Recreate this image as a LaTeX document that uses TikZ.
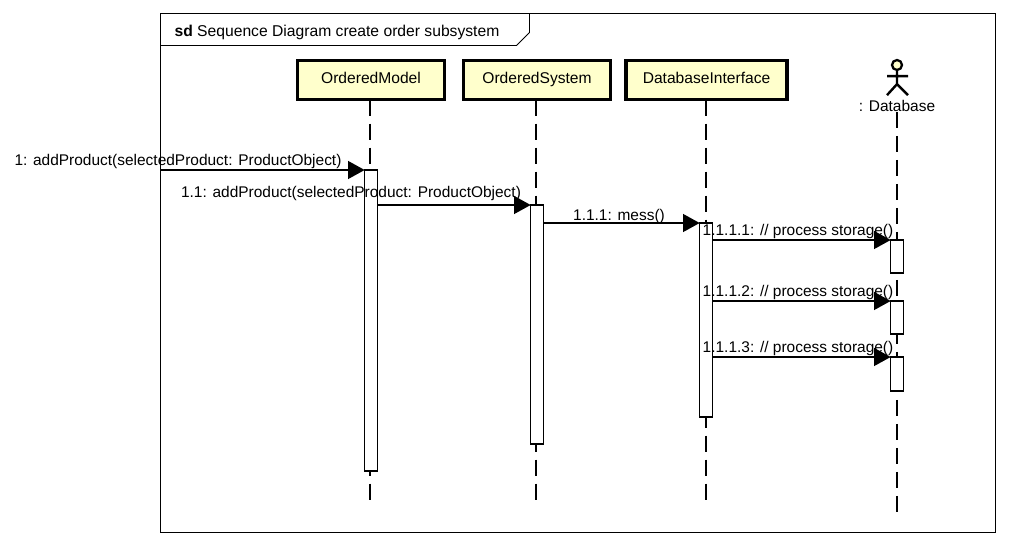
\documentclass[tikz,border=0pt]{standalone}
\usepackage{fontspec}
\setmainfont{Liberation Sans}
\usetikzlibrary{positioning,calc}
\usetikzlibrary{arrows.meta}
\definecolor{headfill}{HTML}{FFFFCC}
\tikzstyle{frame} = [rectangle,draw=black,line width=0.7pt,minimum width=626.25pt,minimum height=389.25pt,outer sep=0pt]
\tikzstyle{head} = [rectangle,draw=black,fill=headfill,line width=2.6pt,minimum height=29.5pt,outer sep=0pt,inner sep=0pt,font=\fontsize{11.7}{14}\selectfont,text height=8pt,text depth=3.5pt]
\tikzstyle{bar} = [rectangle,draw=black,fill=white,line width=0.9pt,minimum width=9.5pt,outer sep=0pt,inner sep=0pt,anchor=north]
\tikzstyle{lifeline} = [line width=1.1pt,dash pattern=on 12pt off 6pt]
\tikzstyle{line} = [line width=1pt,-{Triangle[length=12.5pt,width=13.5pt]}]
\tikzstyle{label} = [inner sep=0pt,font=\fontsize{11.6}{14}\selectfont]

\begin{document}
\begin{tikzpicture}[x=0.75pt,y=-0.75pt]
        \useasboundingbox (0,0) rectangle (1009,546);
        \node[frame] (sd) at (578,273) {};
        \draw[line width=0.7pt] (sd.north west) ++(369,0) -- ++(0,19) -- ++(-13,13) -- ++(-356,0);
        \node[label,font=\fontsize{11.75}{14}\selectfont] (title) at (337,32) {\textbf{sd} Sequence Diagram create order subsystem};

        \node[head,minimum width=110pt] (model) at (371,80) {OrderedModel};
        \node[head,minimum width=110pt] (system) at (537,80) {OrderedSystem};
        \node[head,minimum width=121pt] (iface) at (706.5,80) {DatabaseInterface};

        \node[draw=black,fill=headfill,circle,line width=1.7pt,minimum size=7.5pt,inner sep=0pt] (actor) at (897,65) {};
        \draw[line width=1.8pt] (actor.south) -- ++(0,13) -- ++(-10,11) (actor.south) ++(0,13) -- ++(11,11)
        (actor.south) ++(-10,5) -- ++(21,0);
        \node[label] (db) at (897,106) {: Database};

        \coordinate (modelEnd) at (370,501);
        \coordinate (systemEnd) at (536,501);
        \coordinate (ifaceEnd) at (706,501);
        \coordinate (dbEnd) at (897,514);
        \draw[lifeline] (model.south -| modelEnd) -- (modelEnd);
        \draw[lifeline] (system.south -| systemEnd) -- (systemEnd);
        \draw[lifeline] (iface.south -| ifaceEnd) -- (ifaceEnd);
        \draw[lifeline] (db.south -| dbEnd) -- (dbEnd);

        \node[bar,minimum height=225.75pt] (modelBar) at (371,170) {};
        \node[bar,minimum height=179.25pt] (systemBar) at (537,205) {};
        \node[bar,minimum height=145.5pt] (ifaceBar) at (706,223) {};
        \node[bar,minimum height=24.75pt] (dbBarA) at (897,240) {};
        \node[bar,minimum height=24.75pt] (dbBarB) at (897,301) {};
        \node[bar,minimum height=25.5pt] (dbBarC) at (897,357) {};

        \draw[line] (sd.west |- modelBar.north) -- (modelBar.north west);
        \draw[line] (modelBar.east |- systemBar.north) -- (systemBar.north west);
        \draw[line] (systemBar.east |- ifaceBar.north) -- (ifaceBar.north west);
        \draw[line] (ifaceBar.east |- dbBarA.north) -- (dbBarA.north west);
        \draw[line] (ifaceBar.east |- dbBarB.north) -- (dbBarB.north west);
        \draw[line] (ifaceBar.east |- dbBarC.north) -- (dbBarC.north west);

        \node[label] (msgA) at (178,161) {1: addProduct(selectedProduct: ProductObject)};
        \node[label] (msgB) at (351,193) {1.1: addProduct(selectedProduct: ProductObject)};
        \node[label] (msgC) at (619,216) {1.1.1: mess()};
        \node[label] (msgD) at (798,231) {1.1.1.1: // process storage()};
        \node[label] (msgE) at (798,292) {1.1.1.2: // process storage()};
        \node[label] (msgF) at (798,348) {1.1.1.3: // process storage()};
    \end{tikzpicture}
\end{document}
